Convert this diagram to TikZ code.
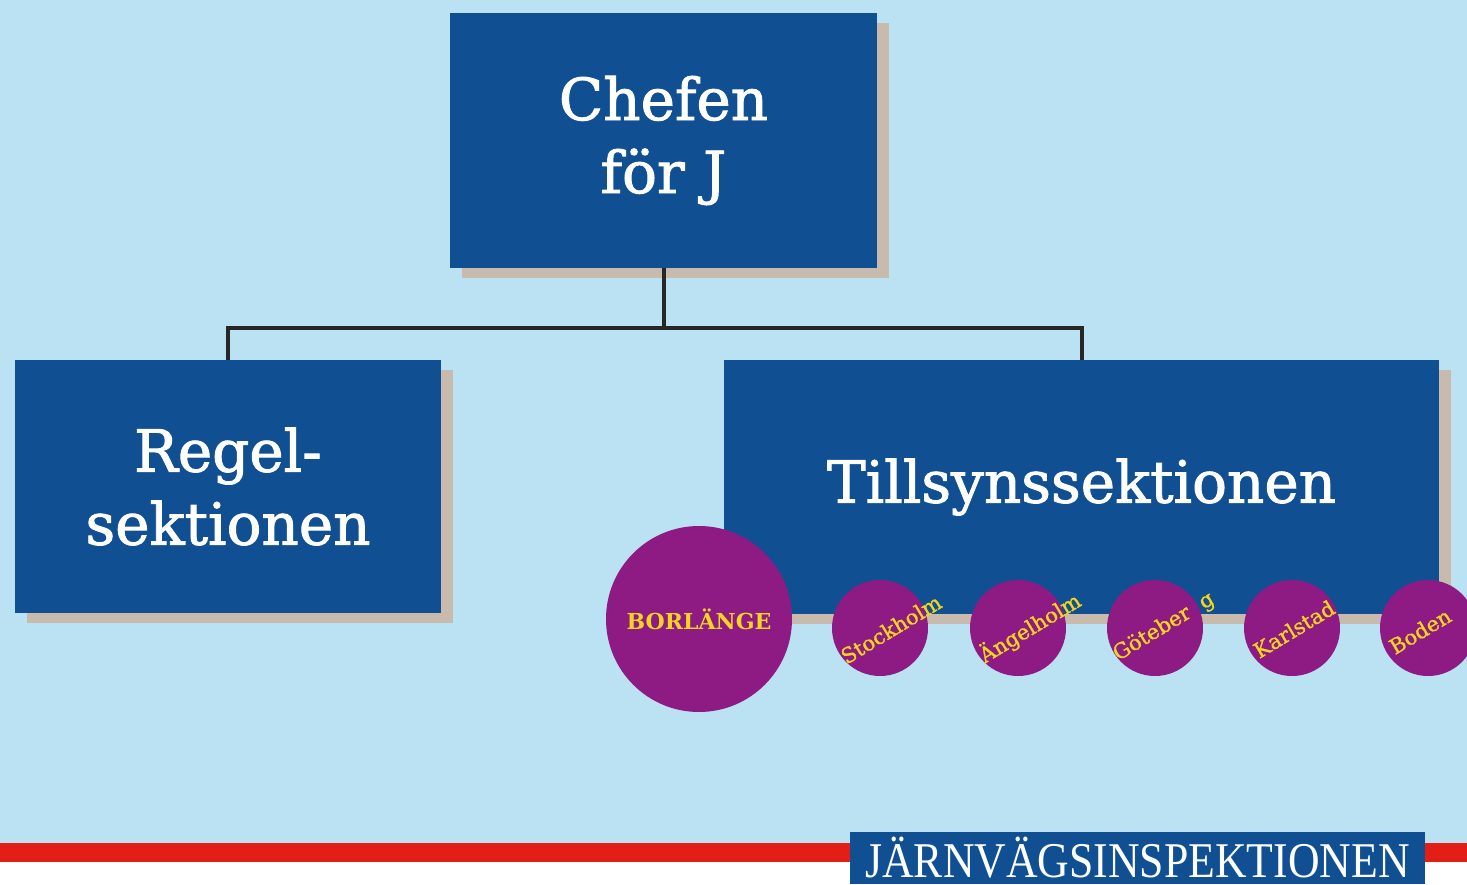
\documentclass[tikz,border=0pt]{standalone}
\usepackage{fontspec}
\setmainfont{DejaVu Serif}
\newfontfamily\semib[FakeBold=1.6]{DejaVu Serif}
\newfontfamily\citysemib[FakeBold=1.2]{DejaVu Serif}
\newfontfamily\bannerfont{Liberation Serif}
\usetikzlibrary{shadows}
\definecolor{bgblue}{RGB}{186,226,243}
\definecolor{jblue}{RGB}{16,80,146}
\definecolor{shadowc}{RGB}{200,186,172}
\definecolor{cityc}{RGB}{142,26,132}
\definecolor{cityt}{RGB}{244,212,30}
\definecolor{stripe}{RGB}{226,30,22}
\begin{document}
\begin{tikzpicture}[x=1pt,y=-1pt,
  box/.style={fill=jblue, text=white, inner sep=0pt, align=center,
    font=\semib\fontsize{58}{73}\selectfont,
    drop shadow={fill=shadowc, opacity=1, shadow xshift=12pt, shadow yshift=-10pt}},
  conn/.style={draw=black!85, line width=4pt},
  city/.style={circle, fill=cityc, inner sep=0pt},
  citytext/.style={text=cityt, inner sep=0pt, rotate=31, font=\citysemib\fontsize{21}{22}\selectfont},
]
\fill[bgblue] (0,0) rectangle (1467,884);
\useasboundingbox (0,0) rectangle (1467,884);
% bottom stripe
\fill[stripe] (0,843) rectangle (1467,862);
\fill[white] (0,862) rectangle (1467,884);
\node[fill=jblue, text=white, minimum width=575pt, minimum height=52pt, inner sep=0pt,
  font=\bannerfont\fontsize{50}{50}\selectfont] (banner) at (1137.5,858)
  {\raisebox{-3pt}{\scalebox{0.875}[1]{JÄRNVÄGSINSPEKTIONEN}}};
% boxes
\node[box, minimum width=427pt, minimum height=255pt] (chef) at (663.5,140.5) {Chefen\\för J};
\node[box, minimum width=426pt, minimum height=253pt] (regel) at (228,486.5) {Regel-\\sektionen};
\node[box, minimum width=715pt, minimum height=254pt] (tillsyn) at (1081.5,487) {Tillsynssektionen};
% connectors
\coordinate (junc) at (663.5,328);
\draw[conn] (chef.south) -- (junc);
\draw[conn] (junc) -| (regel.north);
\draw[conn] (junc) -| (tillsyn.north);
% cities
\node[city, minimum size=186pt, text=cityt, font=\bfseries\fontsize{22}{24}\selectfont] (borl) at (699,619) {BORLÄNGE};
\node[city, minimum size=96pt] (sthlm) at (880,628) {};
\node[city, minimum size=96pt] (angel) at (1018,628) {};
\node[city, minimum size=96pt] (gbg) at (1155,628) {};
\node[city, minimum size=96pt] (karl) at (1292,628) {};
\node[city, minimum size=96pt] (boden) at (1428,628) {};
\node[citytext] (tsthlm) at (891,629) {Stockholm};
\node[citytext] (tangel) at (1030,628) {Ängelholm};
\node[citytext] (tgbg) at (1164,627) {Göteber\,\, g};
\node[citytext] (tkarl) at (1294,629) {Karlstad};
\node[citytext] (tboden) at (1420,631) {Boden};
\end{tikzpicture}
\end{document}
